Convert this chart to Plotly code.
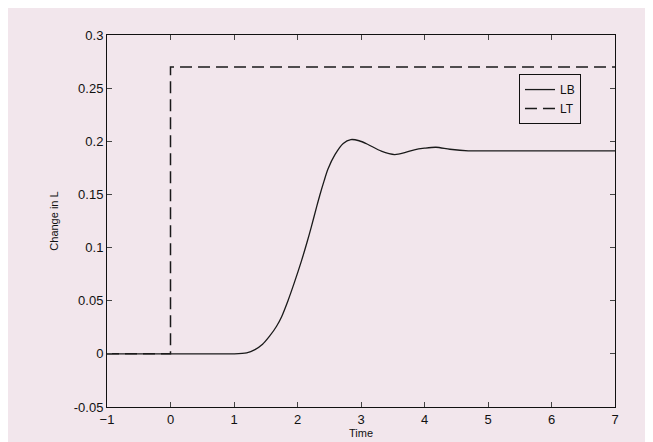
import plotly.graph_objects as go

# LB response
lb_time = [-1, 0, 0.5, 1.0, 1.2, 1.33, 1.45, 1.56, 1.67, 1.75, 1.85, 1.95, 2.06, 2.15, 2.22, 2.3, 2.35, 2.42,
           2.48, 2.59, 2.72, 2.84, 2.97, 3.11, 3.32, 3.53, 3.7, 3.84, 4.0, 4.18, 4.4, 4.69, 5.0, 6.0, 7.0]
lb_value = [0, 0, 0, 0, 0.001, 0.004, 0.009, 0.0166, 0.026, 0.035, 0.05, 0.067, 0.087, 0.105, 0.12, 0.138, 0.149, 0.163,
            0.174, 0.1875, 0.198, 0.2016, 0.2005, 0.197, 0.1907, 0.1875, 0.1895, 0.192, 0.1935, 0.1944, 0.1925, 0.191,
            0.191, 0.191, 0.191]

# LT step input
lt_time = [-1, 0, 0, 7]
lt_value = [0, 0, 0.27, 0.27]

x_ticks = [-1, 0, 1, 2, 3, 4, 5, 6, 7]
y_ticks = [-0.05, 0, 0.05, 0.1, 0.15, 0.2, 0.25, 0.3]
y_tick_labels = ["-0.05", "0", "0.05", "0.1", "0.15", "0.2", "0.25", "0.3"]

FONT = "Liberation Sans Narrow, Liberation Sans, Arial, sans-serif"
BG = "#f2e6ec"

fig = go.Figure()
fig.add_trace(go.Scatter(x=lb_time, y=lb_value, mode="lines", name="LB",
                         line=dict(color="#1a1a1a", width=1.3, shape="spline", smoothing=0.8)))
fig.add_trace(go.Scatter(x=lt_time, y=lt_value, mode="lines", name="LT",
                         line=dict(color="#1a1a1a", width=1.5, dash="12px,6px")))

fig.update_layout(
    width=653, height=442,
    margin=dict(l=99, r=46, t=27, b=43),
    paper_bgcolor=BG, plot_bgcolor=BG,
    font=dict(family=FONT, size=12, color="#111"),
    showlegend=True,
    legend=dict(x=0.811, y=0.895, xanchor="left", yanchor="top",
                bordercolor="#111", borderwidth=1, bgcolor=BG,
                font=dict(size=12), itemwidth=30, tracegroupgap=0),
    xaxis=dict(range=[-1, 7], tickvals=x_ticks, ticks="inside", ticklen=5,
               showline=True, mirror="ticks", linecolor="#111", linewidth=1,
               showgrid=False, zeroline=False, tickfont=dict(size=13),
               title=dict(text="Time", font=dict(size=11), standoff=0)),
    yaxis=dict(range=[-0.05, 0.3], tickvals=y_ticks, ticktext=y_tick_labels, ticks="inside", ticklen=5,
               showline=True, mirror="ticks", linecolor="#111", linewidth=1,
               showgrid=False, zeroline=False, tickfont=dict(size=13),
               title=dict(text="Change in L", font=dict(size=11), standoff=12)),
)

fig.write_html("out.html")
